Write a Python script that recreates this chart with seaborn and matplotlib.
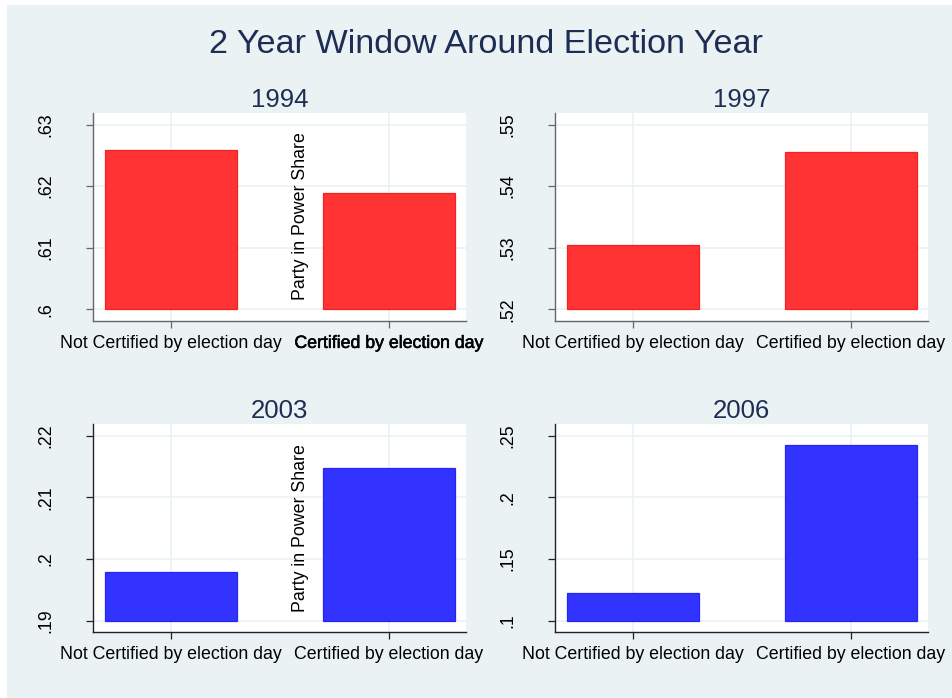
import pandas as pd
import seaborn as sns
import matplotlib.patheffects as pe
from matplotlib import pyplot as plt
from matplotlib.patches import Rectangle

# values
years = [1994, 1997, 2003, 2006]
status = ['Not Certified by election day', 'Certified by election day']
share_1994 = [0.6258, 0.6189]
share_1997 = [0.5305, 0.5456]
share_2003 = [0.1979, 0.2147]
share_2006 = [0.1227, 0.2425]
ticks_1994 = [0.60, 0.61, 0.62, 0.63]
ticks_1997 = [0.52, 0.53, 0.54, 0.55]
ticks_2003 = [0.19, 0.20, 0.21, 0.22]
ticks_2006 = [0.10, 0.15, 0.20, 0.25]

shares = [share_1994, share_1997, share_2003, share_2006]
ticks = [ticks_1994, ticks_1997, ticks_2003, ticks_2006]

rows = []
for y, s in zip(years, shares):
    for st, v in zip(status, s):
        rows.append({'year': y, 'status': st, 'share': v})
df = pd.DataFrame(rows)

sns.set_style('white')
plt.rcParams['font.family'] = ['Liberation Sans', 'DejaVu Sans']

bg = '#EAF2F3'
navy = '#1e2d54'
W, H = 953, 698
fs = 12.75

fig = plt.figure(figsize=(W / 100, H / 100), dpi=100)
fig.patch.set_facecolor('white')
fig.add_artist(Rectangle((7 / W, 0), 1 - 7 / W, 1 - 5 / H, transform=fig.transFigure,
                         facecolor=bg, edgecolor='none', zorder=-1))

# axes boxes in pixels: left, top, right, bottom
boxes = [(93, 113, 466, 321), (555, 113, 928, 321),
         (93, 424, 466, 632.3), (555, 424, 928, 632.3)]
fills = ['#ff3333', '#ff3333', '#3333ff', '#3333ff']
edges = ['#f52020', '#f52020', '#2525f5', '#2525f5']
spine_c = ['#666666', '#666666', '#222222', '#222222']

for i, (yr, tk) in enumerate(zip(years, ticks)):
    l, t, r, b = boxes[i]
    ax = fig.add_axes([l / W, 1 - b / H, (r - l) / W, (b - t) / H])
    ax.set_facecolor('white')
    base = tk[0]
    sub = df[df['year'] == yr].copy()
    sub['rise'] = sub['share'] - base
    sns.barplot(data=sub, x='status', y='rise', order=status, bottom=base,
                width=0.605, color=fills[i], edgecolor=edges[i], linewidth=0.9,
                saturation=1, ax=ax)
    rng = tk[-1] - tk[0]
    ax.set_ylim(tk[0] - 0.0622 * rng, tk[-1] + 0.0622 * rng)
    ax.set_xlim(-0.356, 1.353)
    ax.set_yticks(tk)
    ax.set_yticklabels([f'{v:g}'.lstrip('0') for v in tk])
    ax.set_xlabel('')
    ax.set_ylabel('')
    ax.grid(True, color=bg, linewidth=1.2)
    ax.set_axisbelow(True)
    for side in ['top', 'right']:
        ax.spines[side].set_visible(False)
    for side in ['left', 'bottom']:
        ax.spines[side].set_color(spine_c[i])
        ax.spines[side].set_linewidth(1.0)
    ax.tick_params(axis='x', labelsize=fs, pad=5, length=5, width=0.9,
                   color=spine_c[i], labelcolor='black', bottom=True)
    ax.tick_params(axis='y', labelsize=fs, pad=23, length=5, width=0.9,
                   color=spine_c[i], labelcolor='black', left=True)
    for lab in ax.get_yticklabels():
        lab.set_rotation(90)
        lab.set_va('center')
    ax.set_title(str(yr), fontsize=18.5, color=navy, pad=4.5)
    if i == 0:
        # the right-hand label is printed twice in the original, looks heavier
        ax.get_xticklabels()[1].set_path_effects(
            [pe.withStroke(linewidth=0.4, foreground='black')])

fig.text(486 / W, 1 - 53 / H, '2 Year Window Around Election Year',
         fontsize=24.6, color=navy, ha='center', va='baseline')
for yc in [216, 528]:
    fig.text(300.5 / W, 1 - yc / H, 'Party in Power Share', fontsize=fs,
             rotation=90, ha='center', va='center', color='black')

fig.savefig('out.png', dpi=100)
